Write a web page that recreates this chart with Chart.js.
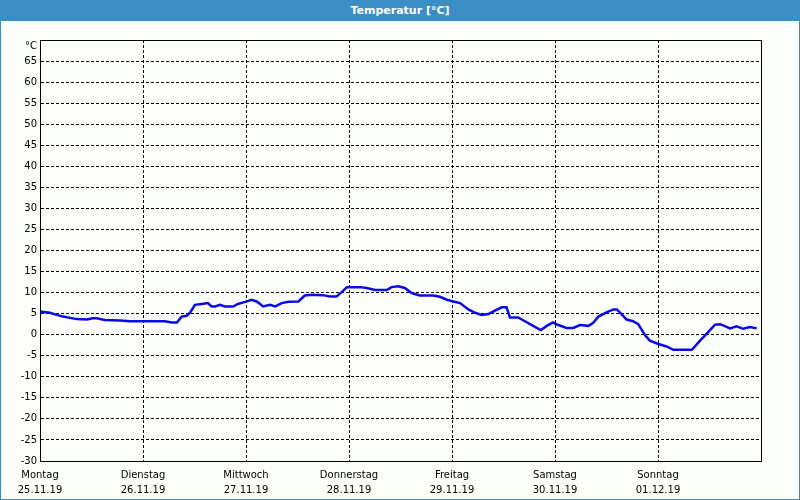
<!DOCTYPE html>
<html>
<head>
<meta charset="utf-8">
<script src="https://cdn.jsdelivr.net/npm/chart.js@4"></script>
<style>
  html, body { margin: 0; padding: 0; }
  #frame {
    position: relative; width: 800px; height: 500px; box-sizing: border-box;
    border: 1px solid #3b8ec5; border-top: none; background: #fcfefc; overflow: hidden;
  }
  #title {
    position: absolute; left: 0; top: 0; width: 100%; height: 21px; background: #3b8ec5;
    color: #fff; font: bold 11px "DejaVu Sans", sans-serif; text-align: center; line-height: 21px;
    z-index: 2;
  }
  #chart { position: absolute; left: -1px; top: 0; }
</style>
</head>
<body>
<div id="frame">
  <div id="title">Temperatur [°C]</div>
  <canvas id="chart" width="800" height="500"></canvas>
</div>
<script>
// Wochentage und Datum unter der x-Achse
const dayNames = ["Montag", "Dienstag", "Mittwoch", "Donnerstag", "Freitag", "Samstag", "Sonntag"];
const dayDates = ["25.11.19", "26.11.19", "27.11.19", "28.11.19", "29.11.19", "30.11.19", "01.12.19"];

// Stunden seit Montag 00:00 und Temperatur in °C
const hours = [
  0, 2.3, 3.9, 5.4, 7.0, 8.6, 10.9, 12.3, 13.2, 15.1, 18.6, 21.0, 29.1, 30.7, 31.9,
  33.0, 34.2, 35.0, 36.1, 37.7, 39.1, 40.0, 40.8, 41.9, 43.1, 45.0, 46.1, 47.8, 49.3,
  50.5, 52.0, 53.6, 54.8, 56.3, 57.9, 60.2, 61.7, 63.3, 65.9, 67.6, 69.1, 70.3, 71.5,
  74.6, 76.1, 78.1, 80.8, 81.9, 83.5, 85.0, 86.6, 88.5, 91.6, 93.2, 94.8, 96.3, 97.9,
  99.8, 101.4, 102.9, 104.5, 106.0, 107.6, 108.7, 109.5, 111.4, 113.0, 114.9, 116.7,
  118.1, 119.5, 120.8, 122.7, 124.3, 125.8, 127.8, 128.9, 130.1, 132.0, 133.6, 134.4,
  135.5, 136.7, 138.2, 139.4, 140.9, 142.1, 144.1, 146.0, 147.6, 151.9, 153.8, 155.3,
  157.3, 158.5, 160.8, 162.3, 163.9, 165.4, 167.0
];
const temps = [
  5.5, 5.2, 4.7, 4.3, 4.0, 3.7, 3.6, 3.9, 3.9, 3.5, 3.4, 3.2, 3.2, 2.9, 2.9,
  4.3, 4.5, 5.3, 7.1, 7.3, 7.5, 6.7, 6.7, 7.1, 6.7, 6.7, 7.3, 7.8, 8.3,
  7.9, 6.7, 7.1, 6.7, 7.5, 7.8, 7.9, 9.3, 9.5, 9.4, 9.1, 9.1, 10.1, 11.3,
  11.3, 11.1, 10.6, 10.6, 11.3, 11.5, 11.1, 9.9, 9.3, 9.3, 9.0, 8.3, 7.9, 7.5,
  6.0, 5.2, 4.7, 4.9, 5.7, 6.5, 6.5, 4.1, 4.1, 3.2, 2.1, 1.1,
  2.1, 2.9, 2.3, 1.6, 1.6, 2.3, 2.1, 2.8, 4.3, 5.3, 6.0, 6.0,
  4.9, 3.6, 3.2, 2.5, 0.0, -1.4, -2.2, -2.8, -3.6, -3.6, -1.4, 0.2,
  2.4, 2.5, 1.5, 2.0, 1.4, 1.8, 1.5
];

const yMin = -30;
const yMax = 70;
const yStep = 5;

// Rahmen um die Zeichenfläche und Einheit oben links
const framePlugin = {
  id: "frame",
  afterDraw(chart) {
    const { ctx, chartArea: a } = chart;
    ctx.save();
    ctx.strokeStyle = "#000";
    ctx.lineWidth = 1;
    ctx.setLineDash([]);
    ctx.strokeRect(a.left + 0.5, a.top + 0.5, a.right - a.left, a.bottom - a.top);
    ctx.fillStyle = "#000";
    ctx.font = "10px 'DejaVu Sans'";
    ctx.textAlign = "right";
    ctx.textBaseline = "middle";
    ctx.fillText("°C", a.left - 3, a.top + 6);
    ctx.restore();
  }
};

const ctx = document.getElementById("chart").getContext("2d");
const chart = new Chart(ctx, {
  type: "line",
  data: {
    datasets: [
      {
        data: hours.map((h, i) => ({ x: h, y: temps[i] })),
        borderColor: "#0a0ae8",
        borderWidth: 2.5,
        pointRadius: 0,
        tension: 0,
        fill: false,
      },
    ],
  },
  options: {
    responsive: false,
    animation: false,
    layout: { padding: { left: 0, top: 40, right: 39, bottom: 0 } },
    plugins: { legend: { display: false }, tooltip: { enabled: false } },
    scales: {
      x: {
        type: "linear",
        min: 0,
        max: 168,
        afterFit: (s) => { s.height = 39; },
        ticks: {
          stepSize: 24,
          autoSkip: false,
          maxRotation: 0,
          padding: 7,
          color: "#000",
          font: { family: "DejaVu Sans", size: 10, lineHeight: 1.5 },
          callback: (v) => {
            const i = Math.round(v / 24);
            return i < dayNames.length ? [dayNames[i], dayDates[i]] : "";
          },
        },
        grid: { color: "#000", lineWidth: 1, drawTicks: false, tickLength: 0 },
        border: { display: true, color: "#000", dash: [3, 2] },
      },
      y: {
        min: yMin,
        max: yMax,
        afterFit: (s) => { s.width = 40; },
        ticks: {
          stepSize: yStep,
          padding: 3,
          color: "#000",
          font: { family: "DejaVu Sans", size: 10 },
          callback: (v) => (v === yMax ? "" : v),
        },
        grid: { color: "#000", lineWidth: 1, drawTicks: false, tickLength: 0 },
        border: { display: true, color: "#000", dash: [3, 2] },
      },
    },
  },
  plugins: [framePlugin],
});
</script>
</body>
</html>
